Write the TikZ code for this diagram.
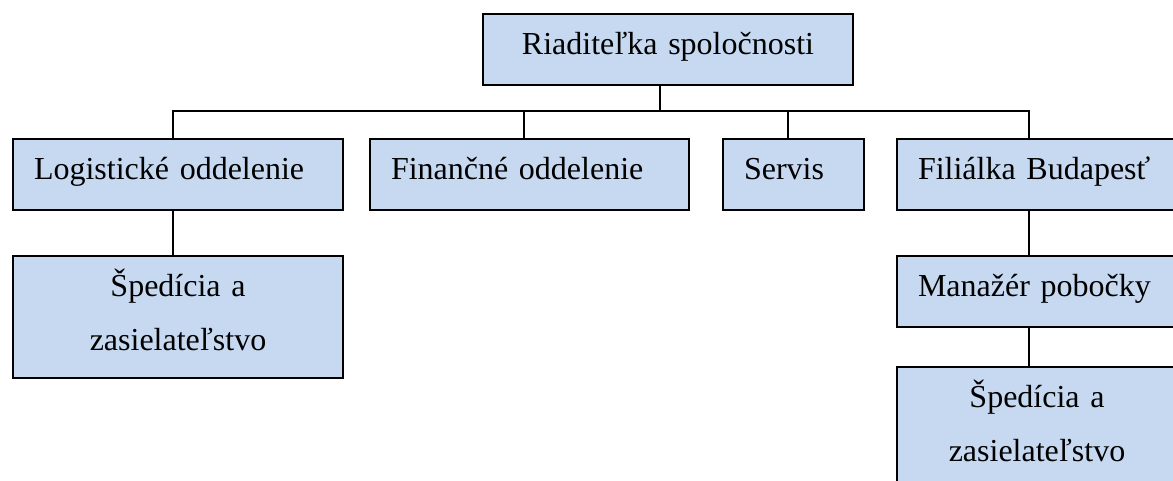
\documentclass[tikz,border=0pt]{standalone}
\usepackage{fontspec}
\setmainfont{Liberation Serif}
\usetikzlibrary{
    positioning % for placing the lower boxes under their parents
}
\definecolor{boxblue}{HTML}{C6D9F1}

\begin{document}
\begin{tikzpicture}[
    x=0.375pt,y=-0.375pt,line width=0.75pt,
    font=\fontsize{12}{20.25}\selectfont,
    every node/.style = {draw,fill=boxblue,anchor=north west,inner ysep=0pt,inner xsep=7.875pt,text height=15pt},
    unit/.style       = {text depth=11.625pt,align=left},
    team/.style       = {text depth=30.75pt,align=center}
]
    \useasboundingbox (0,0) rectangle (1173,480);
    \clip (0,0) rectangle (1173,480);

% top of the chart

    \node [unit,align=center,text width=123pt] (boss) at (482,13) {Riaditeľka spoločnosti};

% departments

    \node [unit,text width=108pt]     (log) at (12,138)  {Logistické oddelenie};
    \node [unit,text width=103.875pt] (fin) at (369,138) {Finančné oddelenie};
    \node [unit,text width=37.125pt]  (srv) at (722,138) {Servis};
    \node [unit,text width=94.875pt]  (bud) at (896,138) {Filiálka Budapesť};

% lower levels

    \node [team,text width=108pt]    (sped1) [below=16.5pt of log]  {Špedícia a\\zasielateľstvo};
    \node [unit,text width=94.875pt] (man)   [below=16.5pt of bud]  {Manažér pobočky};
    \node [team,text width=89.25pt]  (sped2) [below=14.25pt of man.south west,anchor=north west] {Špedícia a\\zasielateľstvo};

% connectors

    \coordinate (top) at (660,111);
    \coordinate (col) at (1029,111);

    \draw (boss.south -| top) -- (top);
    \draw ([xshift=-2pt]log.north) |- (col) -- (bud.north -| col);
    \foreach \n in {fin,srv}
        \draw ([xshift=-2pt]\n.north) -- ([xshift=-2pt]\n.north |- top);
    \draw ([xshift=-2pt]log.south) -- ([xshift=-2pt]sped1.north);
    \draw (bud.south -| col) -- (man.north -| col);
    \draw (man.south -| col) -- (sped2.north -| col);

\end{tikzpicture}
\end{document}
